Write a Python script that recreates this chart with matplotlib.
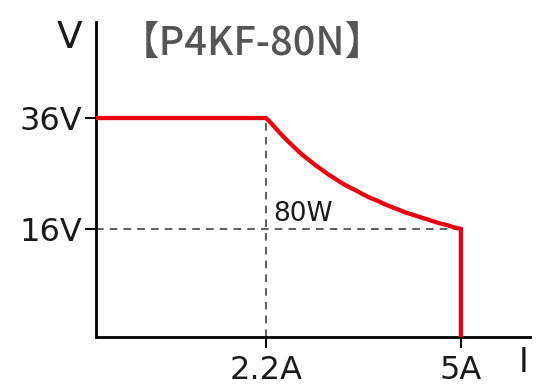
import numpy as np
import matplotlib
matplotlib.use('Agg')
import matplotlib.pyplot as plt

title = '【P4KF-80N】'
power_label = '80W'

# constant-voltage segment
cv_current = [0.0, 2.2]
cv_voltage = [36.0, 36.0]

# constant-power (80W) segment
cp_current = [2.2, 2.25, 2.3, 2.4, 2.5, 2.6, 2.7, 2.8, 2.9, 3.0, 3.1, 3.2, 3.3, 3.4, 3.5, 3.6,
              3.7, 3.8, 3.9, 4.0, 4.1, 4.2, 4.3, 4.4, 4.5, 4.6, 4.7, 4.8, 4.9, 5.0]
cp_voltage = [36.0, 35.4, 34.7, 33.3, 32.0, 30.8, 29.6, 28.6, 27.6, 26.7, 25.8, 25.0, 24.2, 23.5, 22.9, 22.2,
              21.6, 21.1, 20.5, 20.0, 19.5, 19.0, 18.6, 18.2, 17.8, 17.4, 17.0, 16.7, 16.3, 16.0]

# constant-current drop
cc_current = [5.0, 5.0]
cc_voltage = [16.0, 0.0]

x_ticks = [2.2, 5.0]
x_labels = ['2.2A', '5A']
y_ticks = [16, 36]
y_labels = ['16V', '36V']

# schematic (piecewise) axes like the datasheet drawing
x_knots = [0.0, 2.2, 5.0, 6.0]
x_pos = [0.0, 170.0, 365.0, 434.0]
y_knots = [0.0, 16.0, 36.0, 53.0]
y_pos = [0.0, 108.0, 219.0, 315.0]

def fwd_x(v):
    return np.interp(v, x_knots, x_pos)

def inv_x(v):
    return np.interp(v, x_pos, x_knots)

def fwd_y(v):
    return np.interp(v, y_knots, y_pos)

def inv_y(v):
    return np.interp(v, y_pos, y_knots)

label_font = 'DejaVu Sans'
red = '#e60012'
ink = '#1a1a1a'

fig = plt.figure(figsize=(5.5, 3.9), dpi=100)
ax = fig.add_axes([96 / 550, (390 - 337) / 390, (530 - 96) / 550, (337 - 22) / 390])
ax.set_xscale('function', functions=(fwd_x, inv_x))
ax.set_yscale('function', functions=(fwd_y, inv_y))
ax.set_xlim(0, 6)
ax.set_ylim(0, 53)

# guide lines
ax.plot([2.2, 2.2], [0, 36], color='#333333', lw=1.1, ls=(0, (5, 4)), zorder=2)
ax.plot([0, 5.0], [16, 16], color='#333333', lw=1.1, ls=(0, (5, 4)), zorder=2)

# one continuous red trace: CV -> 80W curve -> CC
red_i = cv_current + cp_current[1:] + cc_current[1:]
red_v = cv_voltage + cp_voltage[1:] + cc_voltage[1:]
ax.plot(red_i, red_v, color=red, lw=3.1, solid_capstyle='butt', solid_joinstyle='miter', zorder=3)

ax.text(2.31, 17.4, power_label, fontsize=19, family=label_font, color=ink,
        ha='left', va='baseline')

ax.set_xticks(x_ticks)
ax.set_xticklabels(x_labels)
ax.set_yticks(y_ticks)
ax.set_yticklabels(y_labels)
ax.minorticks_off()
ax.tick_params(axis='both', direction='out', length=8, width=1.4, color='black',
               labelsize=23, labelcolor=ink)
ax.tick_params(axis='y', pad=2)
ax.tick_params(axis='x', pad=5)
for lab in ax.get_xticklabels() + ax.get_yticklabels():
    lab.set_family(label_font)

for side in ['top', 'right']:
    ax.spines[side].set_visible(False)
for side in ['left', 'bottom']:
    ax.spines[side].set_linewidth(2)
    ax.spines[side].set_color('black')

fig.text(70 / 550, 1 - 38 / 390, 'V', fontsize=27, family=label_font, color=ink,
         ha='center', va='center')
fig.text(524 / 550, 1 - 363 / 390, 'I', fontsize=24, family=label_font, color=ink,
         ha='center', va='center')
fig.text(252 / 550, 1 - 44 / 390, title, fontsize=28.5, color='#555555', fontweight='medium',
         family=['Noto Sans CJK JP', 'DejaVu Sans'], ha='center', va='center')

fig.savefig('out.png', dpi=100)
